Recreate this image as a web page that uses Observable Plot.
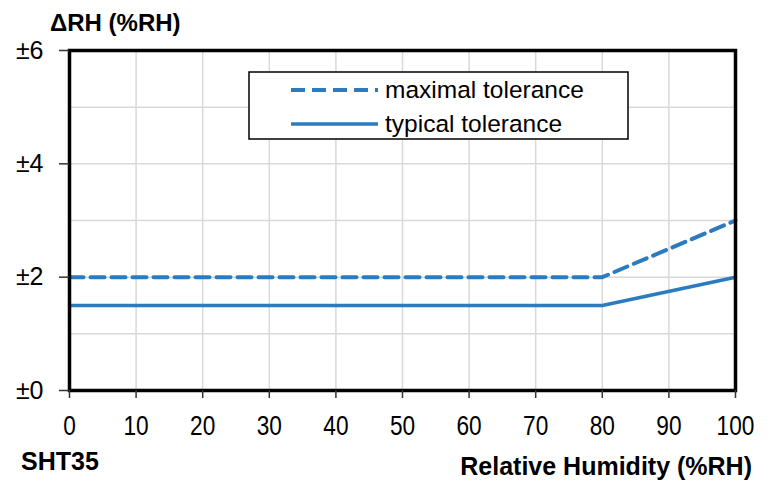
<!DOCTYPE html>
<html><head><meta charset="utf-8">
<script src="https://cdn.jsdelivr.net/npm/d3@7"></script>
<script src="https://cdn.jsdelivr.net/npm/@observablehq/plot@0.6"></script>
<style>body{margin:0;background:#fff;} svg{font-family:"Liberation Sans",Arial,sans-serif;}</style>
</head><body><div id="chart"></div>
<script>
const humidity = [0, 80, 100];
const maximal = [2, 2, 3];
const typical = [1.5, 1.5, 2];
const xTicks = [0,10,20,30,40,50,60,70,80,90,100];
const yTicks = [0,2,4,6];
const yGrid = [1,2,3,4,5];
const seriesNames = ["maximal tolerance", "typical tolerance"];
const blue = "#2a7bbf";

const maxData = humidity.map((h,i)=>({h, v: maximal[i]}));
const typData = humidity.map((h,i)=>({h, v: typical[i]}));

const W=774, H=486, ml=69, mr=39, mt=50, mb=96;
const plot = Plot.plot({
  width: W, height: H,
  marginLeft: ml, marginRight: mr, marginTop: mt, marginBottom: mb,
  style: {fontFamily: "'Liberation Sans', Arial, sans-serif", background: "#fff"},
  x: {domain: [0,100]},
  y: {domain: [0,6]},
  marks: [
    Plot.ruleX(xTicks.filter(d=>d>0&&d<100), {stroke: "#d9d9d9", strokeWidth: 1.5}),
    Plot.ruleY(yGrid, {stroke: "#d9d9d9", strokeWidth: 1.5}),
    Plot.line(typData, {x: "h", y: "v", stroke: blue, strokeWidth: 3.5}),
    Plot.line(maxData, {x: "h", y: "v", stroke: blue, strokeWidth: 4, strokeDasharray: "14,7"}),
    Plot.frame({stroke: "#000", strokeWidth: 3.5}),
    Plot.axisX({ticks: xTicks, tickSize: 8, tickPadding: 17, fontSize: 27, fill: "#000", stroke: "#333", strokeWidth: 1.5, label: null}),
    Plot.axisY({ticks: yTicks, tickSize: 10, tickPadding: 16, fontSize: 25, fill: "#000", stroke: "#333", strokeWidth: 1.5, tickFormat: d => "±" + d, label: null})
  ]
});
document.getElementById("chart").appendChild(plot);

const svg = d3.select(plot);
// narrow the x tick labels horizontally (reference uses a condensed face)
const sx = 0.84;
svg.selectAll('g[aria-label="x-axis tick label"] text').each(function() {
  const t = this.getAttribute("transform") || "";
  const xa = this.getAttribute("x");
  if (xa !== null && !isNaN(+xa)) this.setAttribute("x", (+xa) / sx);
  this.setAttribute("transform", `${t} scale(${sx},1)`);
});

const addText = (x, y, size, weight, anchor, str) =>
  svg.append("text").attr("x", x).attr("y", y).attr("text-anchor", anchor)
    .style("font-size", size + "px").style("font-weight", weight).attr("fill", "#000").text(str);
addText(50, 31, 24, "bold", "start", "ΔRH (%RH)");
addText(21, 470, 25, "bold", "start", "SHT35");
addText(752, 475, 25, "bold", "end", "Relative Humidity (%RH)");

// legend
const lg = svg.append("g");
lg.append("rect").attr("x", 249).attr("y", 72).attr("width", 379).attr("height", 67).attr("fill", "#fff").attr("stroke", "#000").attr("stroke-width", 1.5);
const rows = [{y: 90, dash: "14,7", w: 4}, {y: 124, dash: null, w: 3.5}];
rows.forEach((r, i) => {
  const l = lg.append("line").attr("x1", 291).attr("x2", 378).attr("y1", r.y).attr("y2", r.y).attr("stroke", blue).attr("stroke-width", r.w);
  if (r.dash) l.attr("stroke-dasharray", r.dash);
  lg.append("text").attr("x", 385).attr("y", r.y + 8).attr("text-anchor", "start")
    .style("font-size", "24.5px").attr("fill", "#000").text(seriesNames[i]);
});
</script></body></html>
